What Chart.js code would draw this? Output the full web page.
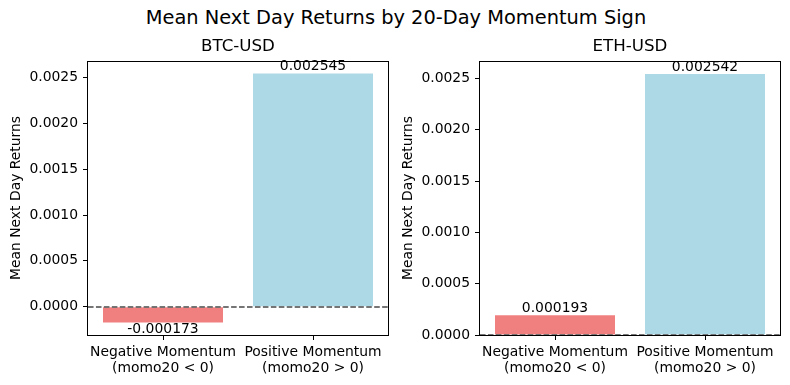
<!DOCTYPE html>
<html>
<head>
<meta charset="utf-8">
<script src="https://cdn.jsdelivr.net/npm/chart.js@4.4.1/dist/chart.umd.min.js"></script>
<style>
  html, body { margin: 0; padding: 0; background: #fff; }
  #wrap { position: relative; width: 790px; height: 385px; overflow: hidden; font-family: "DejaVu Sans", sans-serif; }
  #suptitle { position: absolute; left: 0; top: 6px; width: 792px; text-align: center; font-size: 19.4px; line-height: 24px; color: #000; }
  canvas { position: absolute; top: 30px; }
  #c1 { left: 0px; }
  #c2 { left: 392px; }
</style>
</head>
<body>
<div id="wrap">
  <div id="suptitle">Mean Next Day Returns by 20-Day Momentum Sign</div>
  <canvas id="c1" width="395" height="355"></canvas>
  <canvas id="c2" width="395" height="355"></canvas>
</div>
<script>
// ---- data ----
const categories = [["Negative Momentum", "(momo20 < 0)"], ["Positive Momentum", "(momo20 > 0)"]];
const btcValues = [-0.000173, 0.002545];
const ethValues = [0.000193, 0.002542];
const btcLabels = ["-0.000173", "0.002545"];
const ethLabels = ["0.000193", "0.002542"];
const yTicks = [0.0000, 0.0005, 0.0010, 0.0015, 0.0020, 0.0025];
const panelTitles = ["BTC-USD", "ETH-USD"];
const barColors = ["#F08080", "#ADD8E6"];
const yAxisTitle = "Mean Next Day Returns";

const FONT = "DejaVu Sans";

function limits(vals) {
  // matplotlib-like autoscale with 5% margins, sticky at zero
  let lo = Math.min(0, ...vals), hi = Math.max(0, ...vals);
  const r = hi - lo;
  const min = lo < 0 ? lo - 0.05 * r : 0;
  const max = hi > 0 ? hi + 0.05 * r : 0;
  return {min, max};
}

const decorPlugin = {
  id: 'decor',
  afterDatasetsDraw(chart, args, opts) {
    const ctx = chart.ctx;
    const a = chart.chartArea;
    const y = chart.scales.y;
    // zero dashed line
    const y0 = Math.round(y.getPixelForValue(0));
    ctx.save();
    ctx.strokeStyle = 'rgba(110,110,110,0.95)';
    ctx.lineWidth = 2;
    ctx.setLineDash([5.55, 2.4]);
    ctx.beginPath();
    ctx.moveTo(a.left, y0);
    ctx.lineTo(a.right, y0);
    ctx.stroke();
    ctx.restore();
    // value labels
    const meta = chart.getDatasetMeta(0);
    ctx.save();
    ctx.font = '13.9px "' + FONT + '"';
    ctx.fillStyle = '#000';
    ctx.textAlign = 'center';
    meta.data.forEach((bar, i) => {
      const v = chart.data.datasets[0].data[i];
      if (v >= 0) {
        ctx.textBaseline = 'bottom';
        ctx.fillText(opts.labels[i], bar.x, bar.y);
      } else {
        ctx.textBaseline = 'top';
        ctx.fillText(opts.labels[i], bar.x, bar.y);
      }
    });
    ctx.restore();
  },
  afterDraw(chart, args, opts) {
    const ctx = chart.ctx;
    const a = chart.chartArea;
    ctx.save();
    ctx.strokeStyle = '#000';
    ctx.lineWidth = 1;
    ctx.strokeRect(Math.round(a.left) - 0.5, Math.round(a.top) + 0.5, Math.round(a.right - a.left) + 1, Math.round(a.bottom - a.top));
    ctx.font = '16.67px "' + FONT + '"';
    ctx.fillStyle = '#000';
    ctx.textAlign = 'center';
    ctx.textBaseline = 'middle';
    ctx.fillText(opts.title, (a.left + a.right) / 2, 17);
    ctx.restore();
  }
};

function makeChart(id, values, labels, title) {
  const lim = limits(values);
  return new Chart(document.getElementById(id), {
    type: 'bar',
    data: {
      labels: categories,
      datasets: [{
        data: values,
        backgroundColor: barColors,
        borderWidth: 0,
        barPercentage: 0.8,
        categoryPercentage: 1.0
      }]
    },
    options: {
      responsive: false,
      animation: false,
      devicePixelRatio: 1,
      layout: { padding: { top: 31, right: 7, left: 0, bottom: 0 } },
      plugins: {
        legend: { display: false },
        tooltip: { enabled: false },
        title: { display: false },
        decor: { labels: labels, title: title }
      },
      scales: {
        x: {
          type: 'category',
          offset: true,
          grid: { display: true, offset: false, drawOnChartArea: false, drawTicks: true, tickLength: 5, color: '#000', lineWidth: 1 },
          border: { display: false },
          ticks: { color: '#000', font: { family: FONT, size: 13.9, lineHeight: 1.18 }, padding: 4, maxRotation: 0, autoSkip: false },
          afterFit(scale) { scale.height = 50; }
        },
        y: {
          min: lim.min,
          max: lim.max,
          grid: { display: true, drawOnChartArea: false, drawTicks: true, tickLength: 5, color: '#000', lineWidth: 1 },
          border: { display: false },
          ticks: { color: '#000', font: { family: FONT, size: 13.9 }, padding: 5, callback: (v) => v.toFixed(4) },
          afterBuildTicks(scale) { scale.ticks = yTicks.filter(t => t >= lim.min && t <= lim.max).map(t => ({ value: t })); },
          title: { display: true, text: yAxisTitle, color: '#000', font: { family: FONT, size: 13.9 }, padding: { top: 7.7, bottom: 0 } },
          afterFit(scale) { scale.width = 88; }
        }
      }
    },
    plugins: [decorPlugin]
  });
}

makeChart('c1', btcValues, btcLabels, panelTitles[0]);
makeChart('c2', ethValues, ethLabels, panelTitles[1]);
</script>
</body>
</html>
